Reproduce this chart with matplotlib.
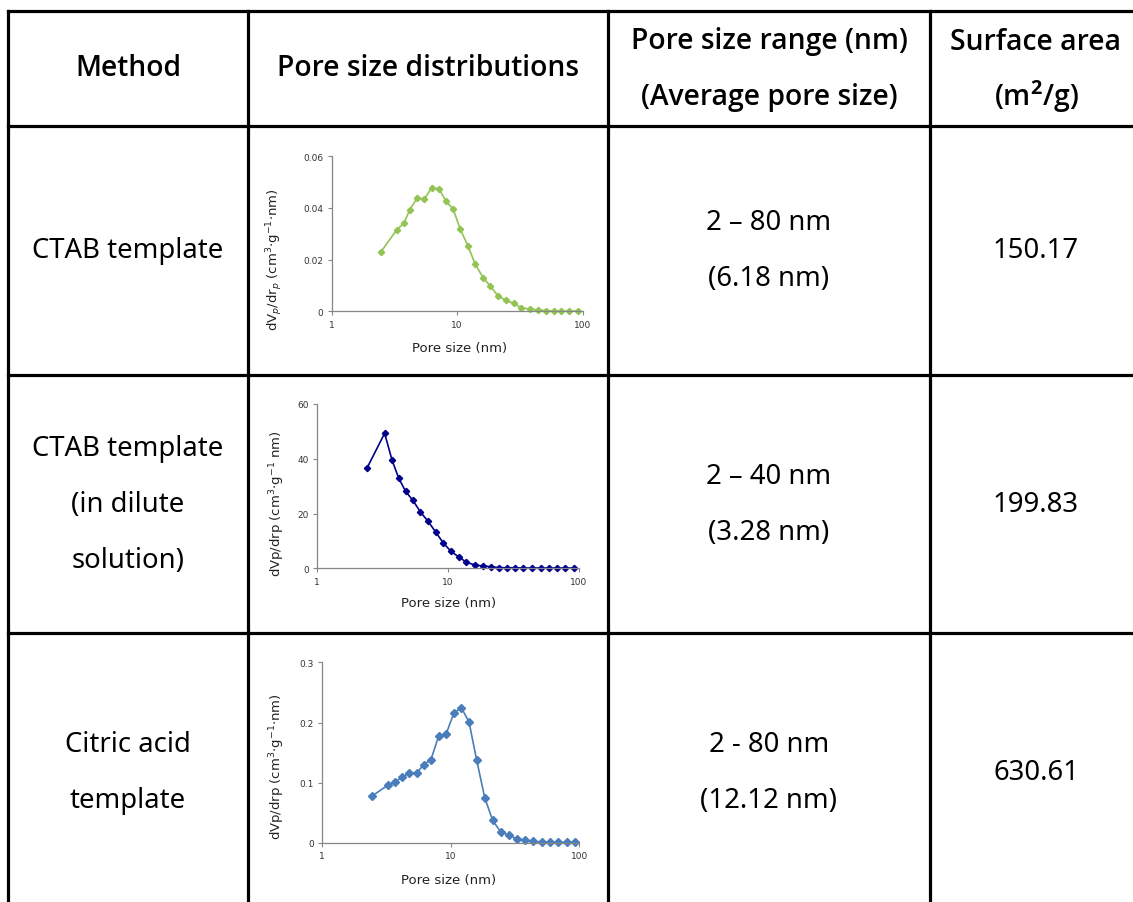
import matplotlib
matplotlib.use("Agg")
import matplotlib.pyplot as plt
from matplotlib.lines import Line2D

plt.rcParams["mathtext.fontset"] = "custom"
plt.rcParams["mathtext.rm"] = "DejaVu Sans"
plt.rcParams["mathtext.it"] = "DejaVu Sans:italic"
plt.rcParams["mathtext.bf"] = "Open Sans:bold"
plt.rcParams["mathtext.default"] = "regular"

# ---------------- data ----------------
methods = [["CTAB template"], ["CTAB template", "(in dilute", "solution)"], ["Citric acid", "template"]]
ranges = [["2 \u2013 80 nm", "(6.18 nm)"], ["2 \u2013 40 nm", "(3.28 nm)"], ["2 - 80 nm", "(12.12 nm)"]]
areas = ["150.17", "199.83", "630.61"]

x1 = [2.45, 3.29, 3.76, 4.2, 4.8, 5.46, 6.25, 7.14, 8.13, 9.29, 10.6, 12.2, 13.9, 16.1, 18.4, 21.2,
      24.4, 28.1, 32.5, 37.8, 44.1, 50.8, 58.8, 67.6, 77.9, 91.8]
y1 = [0.0228, 0.0315, 0.0341, 0.0394, 0.0439, 0.0434, 0.0477, 0.0475, 0.0427, 0.0395, 0.0317, 0.0252,
      0.0183, 0.0130, 0.0097, 0.0059, 0.0043, 0.0031, 0.0013, 0.0009, 0.0005, 0.0003, 0.0001, 0.0001,
      0.0001, 0.0001]

x2 = [2.41, 3.27, 3.72, 4.19, 4.73, 5.38, 6.13, 7.01, 8.02, 9.13, 10.5, 12.1, 13.8, 16.0, 18.5, 21.1,
      24.3, 28.0, 32.4, 37.5, 43.7, 50.9, 59.0, 67.9, 78.2, 92.0]
y2 = [36.8, 49.3, 39.6, 32.9, 28.1, 24.8, 20.6, 17.2, 13.3, 9.4, 6.2, 4.1, 2.2, 1.2, 0.85, 0.6,
      0.25, 0.2, 0.2, 0.1, 0.1, 0.1, 0.1, 0.1, 0.1, 0.1]

x3 = [2.43, 3.24, 3.67, 4.19, 4.77, 5.45, 6.17, 7.03, 8.07, 9.2, 10.6, 12.1, 13.9, 15.9, 18.4, 21.2,
      24.5, 28.2, 32.6, 37.8, 43.9, 51.3, 59.2, 68.7, 79.7, 92.5]
y3 = [0.0775, 0.0958, 0.1007, 0.1096, 0.1162, 0.1162, 0.130, 0.1384, 0.1777, 0.1804, 0.2159, 0.2247,
      0.2009, 0.1384, 0.0753, 0.0376, 0.0183, 0.0133, 0.0066, 0.0050, 0.0028, 0.0017, 0.0017, 0.0010,
      0.0010, 0.0010]

yticks1 = [0, 0.02, 0.04, 0.06]
ytl1 = ["0", "0.02", "0.04", "0.06"]
yticks2 = [0, 20, 40, 60]
ytl2 = ["0", "20", "40", "60"]
yticks3 = [0, 0.1, 0.2, 0.3]
ytl3 = ["0", "0.1", "0.2", "0.3"]
xticks = [1, 10, 100]
xtl = ["1", "10", "100"]

ylab1 = r"dV$_{\mathit{p}}$/dr$_{\mathit{p}}$ (cm$^3$$\cdot$g$^{-1}$$\cdot$nm)"
ylab2 = r"dVp/drp (cm$^3$$\cdot$g$^{-1}$ nm)"
ylab3 = r"dVp/drp (cm$^3$$\cdot$g$^{-1}$$\cdot$nm)"

# ---------------- figure ----------------
W, H = 1133, 903
fig = plt.figure(figsize=(W / 100, H / 100), dpi=100)
bg = fig.add_axes([0, 0, 1, 1])
bg.set_xlim(0, W)
bg.set_ylim(H, 0)
bg.axis("off")

lw = 2.3
xs = [7.5, 248, 608, 930, 1145]
ys = [12, 127, 376, 634, 915]
for x in xs:
    bg.add_line(Line2D([x, x], [ys[0], ys[-1]], color="black", lw=lw, solid_capstyle="projecting"))
for y in ys:
    bg.add_line(Line2D([xs[0], xs[-1]], [y, y], color="black", lw=lw, solid_capstyle="projecting"))

tf = dict(family=["Noto Sans", "DejaVu Sans"], fontsize=19.8, ha="center", va="center", color="black")
hf = dict(tf, family=["Open Sans", "Noto Sans", "DejaVu Sans"], fontweight="semibold", fontsize=20.3)
bg.text(128, 68, "Method", **hf)
bg.text(428, 68, "Pore size distributions", **hf)
bg.text(769, 42, "Pore size range (nm)", **hf)
bg.text(769, 97, "(Average pore size)", **hf)
bg.text(1036, 42, "Surface area", **hf)
bg.text(1036, 97, r"(m$^{\mathbf{2}}$/g)", **hf)

rowc = [251, 505, 773]
for i in range(3):
    n = len(methods[i])
    for j, s in enumerate(methods[i]):
        bg.text(128, rowc[i] + (j - (n - 1) / 2) * 56, s, **tf)
    for j, s in enumerate(ranges[i]):
        bg.text(769, rowc[i] + (j - 0.5) * 56, s, **tf)
    bg.text(1036, rowc[i], areas[i], **tf)

# ---------------- mini charts ----------------
def mini(rect, x, y, color, ms, yt, ytl, ylab, ylc, xlc):
    ax = fig.add_axes([rect[0] / W, 1 - rect[3] / H, (rect[1] - rect[0]) / W, (rect[3] - rect[2]) / H])
    ax.set_facecolor("none")
    ax.plot(x, y, color=color, lw=1.2, marker="D", ms=ms, mfc=color, mec=color)
    ax.set_xscale("log")
    ax.set_xlim(1, 100)
    ax.set_ylim(yt[0], yt[-1])
    ax.set_xticks(xticks)
    ax.set_xticklabels(xtl)
    ax.xaxis.set_minor_locator(matplotlib.ticker.NullLocator())
    ax.set_yticks(yt)
    ax.set_yticklabels(ytl)
    for s in ["top", "right"]:
        ax.spines[s].set_visible(False)
    for s in ["left", "bottom"]:
        ax.spines[s].set_color("#868686")
        ax.spines[s].set_linewidth(0.9)
    ax.tick_params(axis="both", labelsize=6.5, colors="#868686", labelcolor="#333333", length=3, width=0.8, pad=3)
    ax.set_ylabel(ylab, fontsize=9.5, color="#222222")
    ax.set_xlabel("Pore size (nm)", fontsize=9.5, color="#222222")
    ax.yaxis.set_label_coords(ylc[0], ylc[1])
    ax.xaxis.set_label_coords(xlc[0], xlc[1])
    for l in ax.lines:
        l.set_clip_on(False)
    return ax

mini([331.7, 582.7, 157.3, 312.3], x1, y1, "#92C353", 3.2, yticks1, ytl1, ylab1, (-0.186, 0.34), (0.51, -0.19))
mini([317.3, 579.0, 405.0, 569.3], x2, y2, "#00008B", 3.2, yticks2, ytl2, ylab2, (-0.117, 0.40), (0.5, -0.167))
mini([322.0, 579.3, 663.3, 844.0], x3, y3, "#4A7EBB", 4.2, yticks3, ytl3, ylab3, (-0.137, 0.426), (0.49, -0.166))

fig.savefig("out.png", dpi=100)
